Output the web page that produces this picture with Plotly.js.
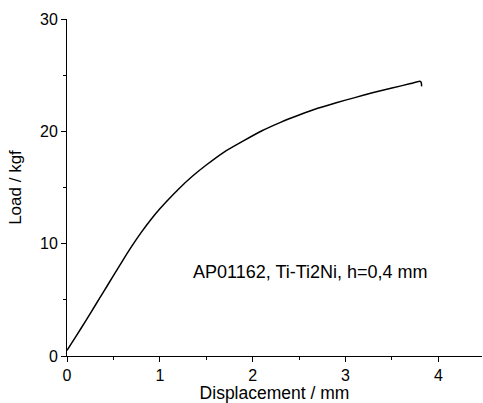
<!DOCTYPE html>
<html><head><meta charset="utf-8">
<script src="https://cdn.plot.ly/plotly-3.0.1.min.js"></script>
<style>html,body{margin:0;padding:0;background:#fff}</style>
</head><body>
<div id="chart" style="width:483px;height:403px"></div>
<script>
const displacement = [0, 0.1, 0.2, 0.3, 0.4, 0.5, 0.6, 0.7, 0.8, 0.9, 1.0, 1.1, 1.2, 1.35, 1.5, 1.7, 1.9, 2.1, 2.3, 2.5, 2.7, 2.9, 3.1, 3.3, 3.5, 3.7, 3.8, 3.815, 3.82];
const load = [0.5, 1.8, 3.1, 4.45, 5.8, 7.15, 8.5, 9.8, 11.0, 12.1, 13.1, 14.0, 14.85, 16.0, 17.0, 18.2, 19.15, 20.05, 20.8, 21.45, 22.05, 22.55, 23.0, 23.45, 23.85, 24.25, 24.45, 24.35, 24.0];
const xTicks = [0, 1, 2, 3, 4];
const yTicks = [0, 10, 20, 30];
const label = "AP01162, Ti-Ti2Ni, h=0,4 mm";
const labelPos = [2.62, 7.5];

const font = {family: "Liberation Sans, Arial, sans-serif", size: 16, color: "#000"};
Plotly.newPlot("chart", [{
  x: displacement, y: load, type: "scatter", mode: "lines",
  line: {color: "#000", width: 1.5, shape: "spline", smoothing: 0.5}, hoverinfo: "skip"
}], {
  width: 483, height: 403,
  margin: {l: 67, r: 1, t: 19, b: 47},
  paper_bgcolor: "#fff", plot_bgcolor: "#fff",
  font: font,
  showlegend: false,
  xaxis: {
    range: [0, 4.47], tickvals: xTicks, ticktext: xTicks.map(String),
    showgrid: false, zeroline: false, showline: true, linecolor: "#000", linewidth: 1,
    ticks: "outside", ticklen: 5, tickcolor: "#000",
    minor: {dtick: 0.5, tick0: 0, ticks: "outside", ticklen: 3, tickcolor: "#000", showgrid: false},
    tickfont: {size: 16},
    title: {text: "Displacement / mm", font: {size: 17.5}, standoff: 3}
  },
  yaxis: {
    range: [0, 30], tickvals: yTicks, ticktext: yTicks.map(String),
    showgrid: false, zeroline: false, showline: true, linecolor: "#000", linewidth: 1,
    ticks: "outside", ticklen: 5, tickcolor: "#000",
    minor: {dtick: 5, tick0: 0, ticks: "outside", ticklen: 3, tickcolor: "#000", showgrid: false},
    tickfont: {size: 16},
    title: {text: "Load / kgf", font: {size: 17}, standoff: 14}
  },
  annotations: [{
    x: labelPos[0], y: labelPos[1], xref: "x", yref: "y",
    text: label, showarrow: false, font: {size: 18, color: "#000"}
  }]
}, {displayModeBar: false, staticPlot: true});
</script>
</body></html>
